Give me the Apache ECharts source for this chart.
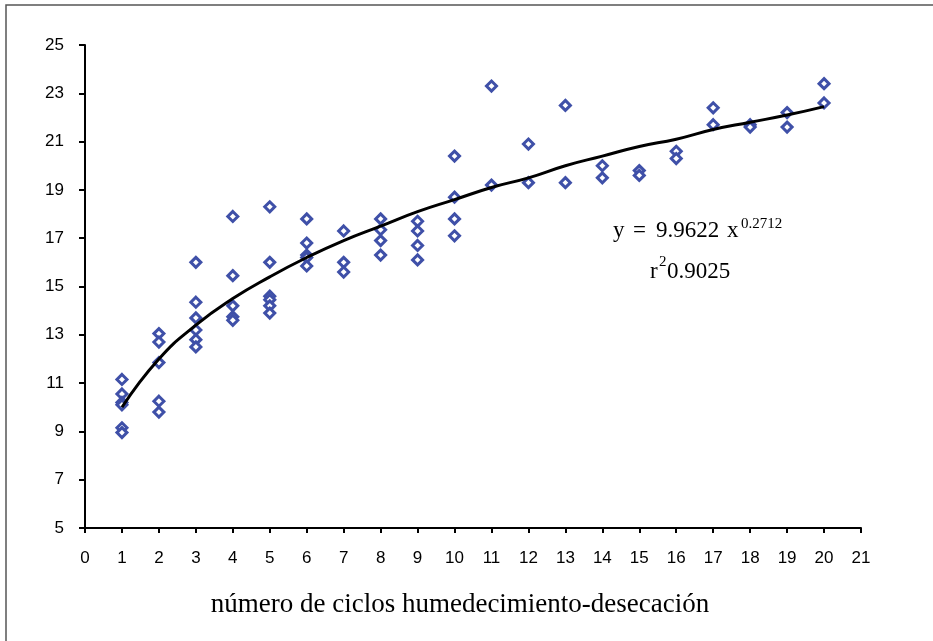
<!DOCTYPE html>
<html>
<head>
<meta charset="utf-8">
<script src="https://cdn.jsdelivr.net/npm/echarts@6/dist/echarts.min.js"></script>
<style>
    html, body { margin: 0; padding: 0; background: #fff; }
    #chart { width: 933px; height: 641px; }
</style>
</head>
<body>
<div id="chart"></div>
<script>
const CICLOS = [
    1, 1, 1, 1, 1, 1,
    2, 2, 2, 2, 2,
    3, 3, 3, 3, 3, 3,
    4, 4, 4, 4, 4,
    5, 5, 5, 5, 5, 5,
    6, 6, 6, 6, 6,
    7, 7, 7,
    8, 8, 8, 8,
    9, 9, 9, 9,
    10, 10, 10, 10,
    11, 11,
    12, 12,
    13, 13,
    14, 14,
    15, 15,
    16, 16,
    17, 17,
    18, 18,
    19, 19,
    20, 20,
]
const VALORES = [
    11.15, 10.55, 10.2, 10.1, 9.15, 8.95,
    13.05, 12.7, 11.85, 10.25, 9.8,
    16.0, 14.35, 13.7, 13.2, 12.8, 12.5,
    17.9, 15.45, 14.2, 13.75, 13.6,
    18.3, 16.0, 14.6, 14.45, 14.2, 13.9,
    17.8, 16.8, 16.3, 16.2, 15.85,
    17.3, 16.0, 15.6,
    17.8, 17.35, 16.9, 16.3,
    17.7, 17.3, 16.7, 16.1,
    20.4, 18.7, 17.8, 17.1,
    23.3, 19.2,
    20.9, 19.3,
    22.5, 19.3,
    20.0, 19.5,
    19.8, 19.6,
    20.6, 20.3,
    22.4, 21.7,
    21.7, 21.6,
    22.2, 21.6,
    23.4, 22.6,
]
const CURVA_X = [1, 2, 3, 4, 5, 6, 7, 8, 9, 10, 11, 12, 13, 14, 15, 16, 17, 18, 19, 20]
const CURVA_Y = [10.0, 12.0, 13.4, 14.5, 15.4, 16.2, 16.9, 17.5, 18.1, 18.6, 19.1, 19.5, 20.0, 20.4, 20.8, 21.1, 21.5, 21.8, 22.1, 22.45]
const Y_TICKS = ["5", "7", "9", "11", "13", "15", "17", "19", "21", "23", "25"]

const puntos = CICLOS.map((c, i) => [c, VALORES[i]])
const curva = CURVA_X.map((c, i) => [c, CURVA_Y[i]])

const serif = { fontFamily: "Liberation Serif", fill: "#000", verticalAlign: "middle" }

const myChart = echarts.init(document.getElementById("chart"))
myChart.setOption({
    backgroundColor: "#fff",
    animation: false,
    grid: {
        left: 85,
        right: 72,
        top: 45,
        bottom: 113,
    },
    xAxis: {
        type: "value",
        min: 0,
        max: 21,
        interval: 1,
        axisLine: {
            show: true,
            onZero: false,
            lineStyle: { color: "#000", width: 2 },
        },
        axisTick: {
            show: true,
            length: 5,
            lineStyle: { color: "#000", width: 2 },
        },
        axisLabel: {
            fontFamily: "Liberation Sans",
            fontSize: 17,
            color: "#000",
            margin: 22,
        },
        splitLine: { show: false },
    },
    yAxis: {
        type: "value",
        min: 5,
        max: 25,
        interval: 2,
        axisLine: {
            show: true,
            onZero: false,
            lineStyle: { color: "#000", width: 2 },
        },
        axisTick: {
            show: true,
            length: 6,
            lineStyle: { color: "#000", width: 2 },
        },
        axisLabel: {
            fontFamily: "Liberation Sans",
            fontSize: 17,
            color: "#000",
            margin: 21,
            formatter: v => (Y_TICKS.indexOf(String(v)) >= 0 ? String(v) : ""),
        },
        splitLine: { show: false },
    },
    series: [
        {
            type: "scatter",
            data: puntos,
            symbol: "diamond",
            symbolSize: 10,
            itemStyle: {
                color: "#fff",
                borderColor: "#3F50A8",
                borderWidth: 3,
                opacity: 1,
            },
            z: 2,
        },
        {
            type: "line",
            data: curva,
            smooth: true,
            showSymbol: false,
            lineStyle: { color: "#000", width: 3 },
            z: 3,
        },
    ],
    graphic: [
        {
            // marco exterior
            type: "rect",
            shape: { x: 6, y: 5, width: 1200, height: 1200 },
            style: { fill: "none", stroke: "#555", lineWidth: 1.5 },
            z: -1,
            silent: true,
        },
        // ecuación de ajuste
        { type: "text", x: 613, y: 231, style: Object.assign({ text: "y", fontSize: 23 }, serif) },
        { type: "text", x: 633, y: 231, style: Object.assign({ text: "=", fontSize: 23 }, serif) },
        { type: "text", x: 656, y: 231, style: Object.assign({ text: "9.9622", fontSize: 23 }, serif) },
        { type: "text", x: 727, y: 231, style: Object.assign({ text: "x", fontSize: 23 }, serif) },
        { type: "text", x: 741, y: 224, style: Object.assign({ text: "0.2712", fontSize: 15 }, serif) },
        { type: "text", x: 650, y: 272, style: Object.assign({ text: "r", fontSize: 23 }, serif) },
        { type: "text", x: 659, y: 262, style: Object.assign({ text: "2", fontSize: 15 }, serif) },
        { type: "text", x: 667, y: 272, style: Object.assign({ text: "0.9025", fontSize: 23 }, serif) },
        {
            type: "text",
            x: 460,
            y: 605,
            style: {
                text: "número de ciclos humedecimiento-desecación",
                fontFamily: "Liberation Serif",
                fontSize: 27,
                fill: "#000",
                align: "center",
                verticalAlign: "middle",
            },
        },
    ],
})
window.addEventListener("resize", function () {
    myChart.resize()
})
</script>
</body>
</html>
